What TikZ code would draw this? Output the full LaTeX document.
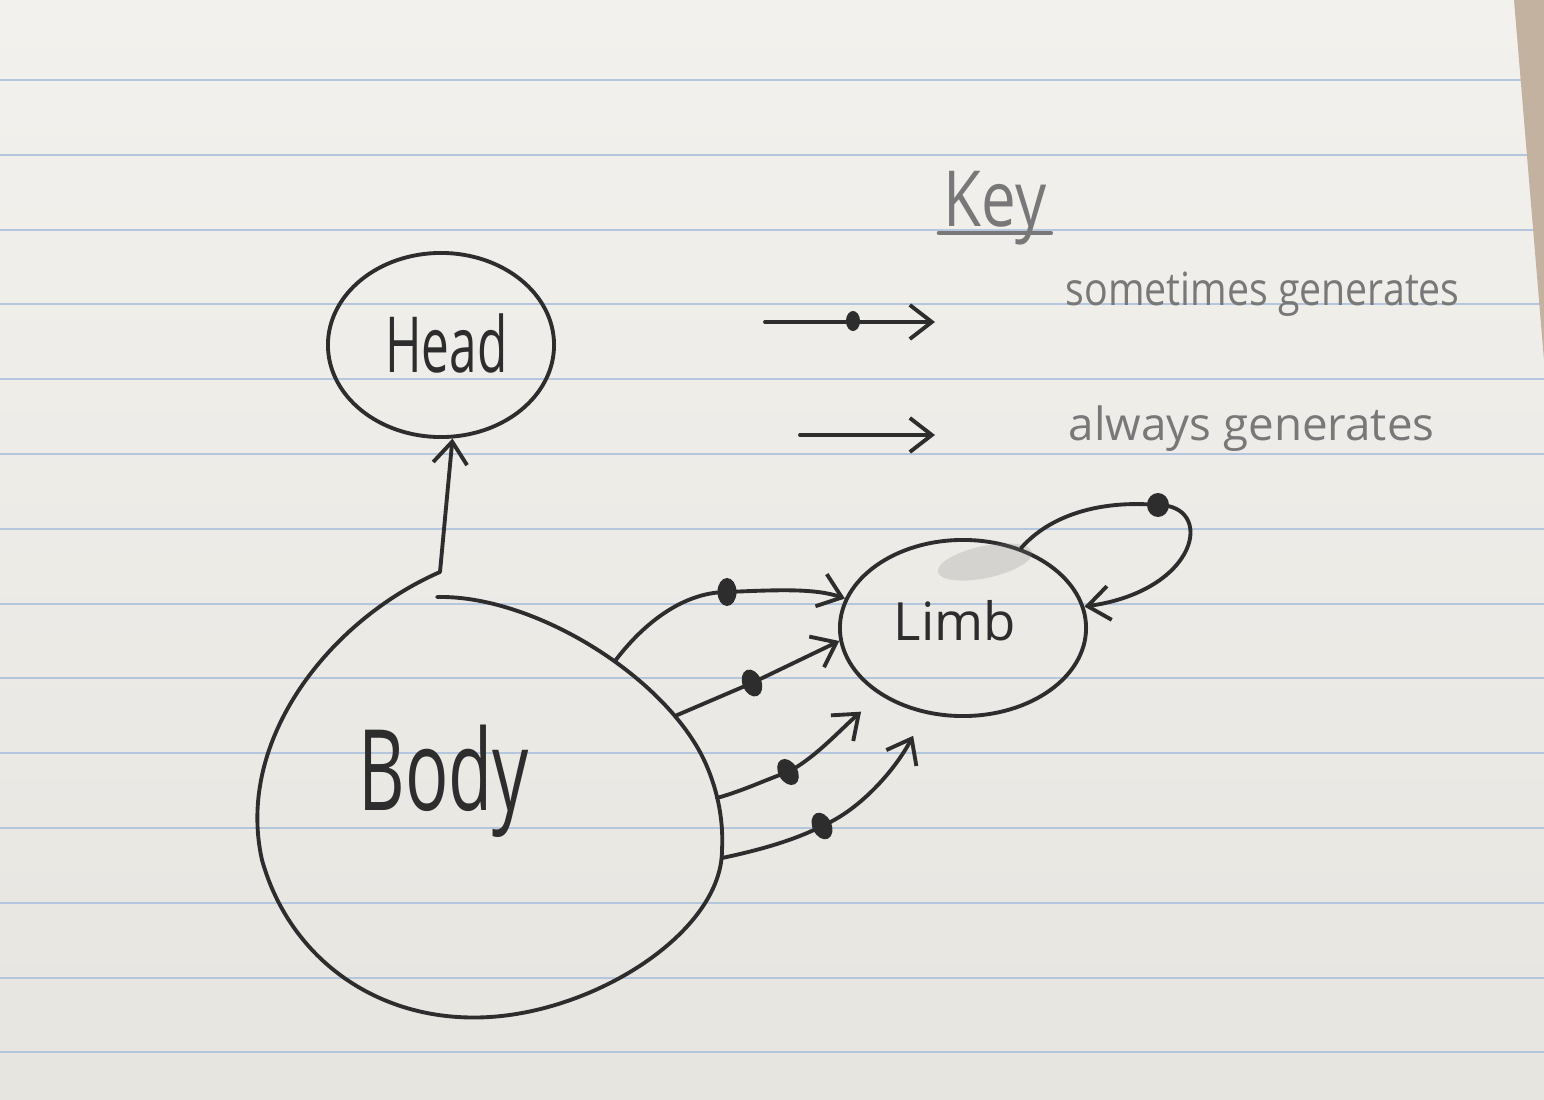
\documentclass[tikz,border=0pt]{standalone}
\usepackage{fontspec}
\setmainfont{Open Sans}
\usetikzlibrary{arrows.meta,shapes.geometric}

\definecolor{paper}{RGB}{243,241,237}
\definecolor{paperlow}{RGB}{231,229,224}
\definecolor{ruling}{RGB}{180,197,222}
\definecolor{pencil}{RGB}{45,45,45}
\definecolor{faint}{RGB}{120,120,120}
\definecolor{binding}{RGB}{196,178,160}

\tikzset{
  pen/.style={draw=pencil, line width=1.1pt},
  bubble/.style={pen, ellipse, inner sep=0pt},
  dot/.style={ellipse, fill=pencil, inner sep=0pt, minimum width=0.19cm, minimum height=0.28cm},
  hand/.style={text=pencil, anchor=base west, inner sep=0pt},
  keytext/.style={text=faint, anchor=base west, inner sep=0pt, font=\fontsize{13}{15}\selectfont},
  gen/.style={pen, ->},
}

\begin{document}
\begin{tikzpicture}[x=0.01cm, y=-0.01cm, line cap=round, line join=round,
  >={Straight Barb[length=2.2mm, width=3.4mm]}]
  % Paper with ruled lines
  \useasboundingbox (0,0) rectangle (1544,1100);
  \shade[top color=paper, bottom color=paperlow] (0,0) rectangle (1544,1100);
  \foreach \k in {0,...,13}
    \draw[ruling, line width=0.6pt] (0,{80+74.8*\k}) -- (1544,{80+74.8*\k});
  \fill[binding] (1514,0) -- (1544,0) -- (1544,360) -- cycle;

  % Head and Limb
  \node[bubble, minimum width=2.26cm, minimum height=1.84cm] (head) at (441,345) {};
  \node[bubble, minimum width=2.46cm, minimum height=1.76cm] (limb) at (963,628) {};
  \fill[gray, opacity=0.22, rotate around={12:(985,562)}] (985,562) ellipse [x radius=0.48cm, y radius=0.16cm];

  % Body, drawn by hand as an egg
  \draw[pen] (437,597) .. controls (530,595) and (655,670) .. (700,752)
    .. controls (715,780) and (724,815) .. (722,850)
    .. controls (722,930) and (600,1010) .. (490,1017)
    .. controls (380,1024) and (290,960) .. (262,860)
    .. controls (235,740) and (330,620) .. (440,572);
  \coordinate (btop) at (440,572);
  \coordinate (b1) at (615,661);
  \coordinate (b2) at (675,716);
  \coordinate (b3) at (717,798);
  \coordinate (b4) at (722,858);

  % Labels
  \node[hand, font=\fontsize{22}{24}\selectfont, xscale=0.64] (headtext) at (385,373) {Head};
  \node[hand, font=\fontsize{32}{36}\selectfont, xscale=0.64] (bodytext) at (358,810) {Body};
  \node[hand, font=\fontsize{15}{18}\selectfont] (limbtext) at (893,640) {Limb};

  % Dots of the "sometimes" connectors
  \node[dot] (d1) at (727,592) {};
  \node[dot, rotate=22] (d2) at (752,683) {};
  \node[dot, rotate=30] (d3) at (788,772) {};
  \node[dot, rotate=25] (d4) at (822,826) {};
  \node[dot, minimum width=0.22cm, minimum height=0.24cm] (dl) at (1158,505) {};

  % Connectors
  \draw[gen] (btop) -- (head.-83);
  \draw[gen] (b1) .. controls (650,615) and (690,592) .. (d1.center)
    .. controls (775,590) and (815,588) .. (limb.166);
  \draw[gen] (b2) -- (d2.center) -- (limb.186);
  \draw[gen, shorten >=0.25cm] (b3) .. controls (745,790) and (765,780) .. (d3.center)
    .. controls (815,758) and (840,730) .. (limb.219);
  \draw[gen, shorten >=0.25cm] (b4) .. controls (760,850) and (795,840) .. (d4.center)
    .. controls (860,810) and (895,770) .. (limb.246);
  \draw[gen] (limb.54) .. controls (1050,515) and (1100,500) .. (dl.center)
    .. controls (1215,505) and (1200,590) .. (limb.10);

  % Key
  \node[text=faint, anchor=base west, inner sep=0pt, font=\fontsize{22}{24}\selectfont, xscale=0.8] (key) at (943,226) {Key};
  \draw[faint, line width=1.3pt] ([xshift=-0.04cm, yshift=-0.07cm]key.base west) -- ([xshift=0.04cm, yshift=-0.07cm]key.base east);
  \coordinate (ks) at (765,322);
  \coordinate (ke) at (935,322);
  \coordinate (as) at (800,435);
  \coordinate (ae) at (935,435);
  \draw[gen] (ks) -- (ke);
  \node[dot, minimum width=0.14cm, minimum height=0.2cm] (dk) at (853,321) {};
  \draw[gen] (as) -- (ae);
  \node[keytext, xscale=0.86] (ksome) at (1065,305) {sometimes generates};
  \node[keytext] (kalways) at (1068,440) {always generates};
\end{tikzpicture}
\end{document}
